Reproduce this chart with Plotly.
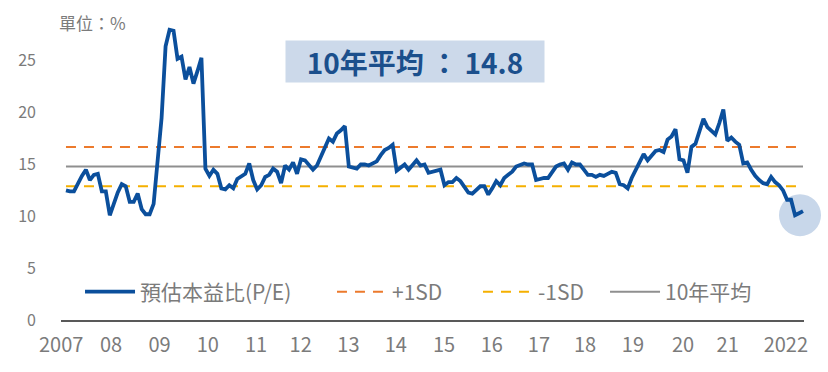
import plotly.graph_objects as go

# Monthly forward P/E, Jan 2007 .. Jun 2022 (index 0..185)
pe_values = [
    12.5, 12.4, 12.4, 13.2, 13.9, 14.5, 13.5, 14.0, 14.1, 12.4, 12.4, 10.1,
    11.3, 12.3, 13.1, 12.9, 11.4, 11.4, 12.2, 10.7, 10.2, 10.2, 11.2, 15.0,
    19.5, 26.4, 28.0, 27.9, 25.2, 25.4, 23.2, 24.4, 22.8, 24.0, 25.3, 14.6,
    13.9, 14.5, 14.1, 12.7, 12.6, 13.0, 12.7, 13.6, 13.9, 14.1, 15.1, 13.5,
    12.6, 13.0, 13.8, 14.0, 14.6, 14.3, 13.2, 14.9, 14.5, 15.2, 14.1, 15.5,
    15.4, 15.0, 14.5, 14.9, 15.8, 16.7, 17.5, 17.2, 18.0, 18.3, 18.7, 14.8,
    14.7, 14.6, 15.0, 15.0, 14.9, 15.1, 15.3, 15.9, 16.4, 16.6, 16.9, 14.4,
    14.7, 15.0, 14.5, 14.9, 15.4, 14.9, 15.0, 14.2, 14.3, 14.4, 14.5, 13.0,
    13.3, 13.3, 13.7, 13.4, 12.9, 12.3, 12.2, 12.5, 12.9, 12.9, 12.1, 12.7,
    13.4, 13.0, 13.7, 14.0, 14.3, 14.8, 15.0, 15.1, 15.0, 15.0, 13.5, 13.6,
    13.7, 13.7, 14.2, 14.8, 15.0, 15.1, 14.5, 15.2, 15.0, 15.0, 14.5, 14.0,
    14.0, 13.8, 14.0, 13.9, 14.1, 14.3, 14.2, 13.1, 13.0, 12.7, 13.7, 14.5,
    15.1, 16.0, 15.4, 15.9, 16.3, 16.4, 16.2, 17.4, 17.7, 18.4, 15.5, 15.4,
    14.2, 16.7, 17.0, 18.2, 19.4, 18.6, 18.2, 17.9, 19.0, 20.3, 17.3, 17.6,
    17.2, 16.9, 15.1, 15.2, 14.5, 13.9, 13.5, 13.2, 13.1, 13.8, 13.3, 13.0,
    12.5, 11.6, 11.6, 10.1, 10.3, 10.5,
]
months = list(range(len(pe_values)))

mean_10y = 14.8
plus_1sd = 16.7
minus_1sd = 12.9

tick_positions = [-1.2, 11.3, 23.5, 35.6, 47.7, 58.9, 70.9, 82.8, 94.9,
                  106.9, 118.7, 130.3, 142.3, 154.9, 166.1, 180.7]
tick_labels = ["2007", "08", "09", "10", "11", "12", "13", "14", "15",
               "16", "17", "18", "19", "20", "21", "2022"]

series_names = ["預估本益比(P/E)", "+1SD", "-1SD", "10年平均"]
unit_label = "單位：%"
title_text = "10年平均 ： 14.8"

FONT = "Noto Sans CJK TC"
GRAY_TXT = "#7b7b7b"
BLUE = "#0b4f9c"

X_RANGE = [-1.25, 185.25]
Y_RANGE = [0, 30]

fig = go.Figure()
span = [months[0], months[-1]]

fig.add_trace(go.Scatter(x=span, y=[plus_1sd, plus_1sd], mode="lines", name=series_names[1],
                         line=dict(color="#ec7a2c", width=2, dash="10px,8px"), legend="legend2"))
fig.add_trace(go.Scatter(x=span, y=[minus_1sd, minus_1sd], mode="lines", name=series_names[2],
                         line=dict(color="#f5b000", width=2, dash="10px,8px"), legend="legend3"))
fig.add_trace(go.Scatter(x=span, y=[mean_10y, mean_10y], mode="lines", name=series_names[3],
                         line=dict(color="#8f8f8f", width=2), legend="legend4"))
fig.add_trace(go.Scatter(x=months, y=pe_values, mode="lines", name=series_names[0],
                         line=dict(color=BLUE, width=3.8), legend="legend"))

# highlight circle around the latest value (paper refs so it is not clipped at the plot edge)
last_px = (months[-1] - X_RANGE[0]) / (X_RANGE[1] - X_RANGE[0])
last_py = (pe_values[-1] - Y_RANGE[0]) / (Y_RANGE[1] - Y_RANGE[0])
fig.add_shape(type="circle", xref="paper", yref="paper", xsizemode="pixel", ysizemode="pixel",
              xanchor=last_px, yanchor=last_py,
              x0=-24, x1=18, y0=-25, y1=17,
              fillcolor="#c8d7ea", line=dict(width=0), layer="below")

fig.add_annotation(text=title_text, xref="paper", yref="paper", x=0.477, y=0.831,
                   showarrow=False, font=dict(family=FONT, size=28, color="#1b4f8c", weight="bold"),
                   bgcolor="#ccd9ea", width=256, height=39, xanchor="center", yanchor="middle")
fig.add_annotation(text=unit_label, xref="paper", yref="paper", x=-0.005, y=0.955,
                   showarrow=False, font=dict(family=FONT, size=17, color=GRAY_TXT),
                   xanchor="left", yanchor="middle")

leg_common = dict(orientation="h", y=0.09, xanchor="left", yanchor="middle",
                  font=dict(family=FONT, size=21, color=GRAY_TXT),
                  bgcolor="rgba(0,0,0,0)", itemwidth=50)

fig.update_layout(
    width=828, height=372,
    margin=dict(l=61, r=24, t=9, b=52),
    plot_bgcolor="white", paper_bgcolor="white",
    font=dict(family=FONT, color=GRAY_TXT),
    showlegend=True,
    legend=dict(x=0.0256, **leg_common),
    legend2=dict(x=0.3647, **leg_common),
    legend3=dict(x=0.5612, **leg_common),
    legend4=dict(x=0.7322, **leg_common),
    xaxis=dict(range=X_RANGE, tickvals=tick_positions, ticktext=tick_labels,
               showgrid=False, zeroline=False, showline=True, linecolor="#595959", linewidth=1.5,
               ticks="", tickfont=dict(family=FONT, size=20, color=GRAY_TXT),
               ticklabelstandoff=6),
    yaxis=dict(range=Y_RANGE, tickvals=[0, 5, 10, 15, 20, 25], showgrid=False, zeroline=False,
               showline=False, ticks="", tickfont=dict(family=FONT, size=16, color=GRAY_TXT),
               ticklabelstandoff=24),
)

fig.write_html("out.html", config={"displayModeBar": False},
               post_script="document.body.style.margin='0';")
